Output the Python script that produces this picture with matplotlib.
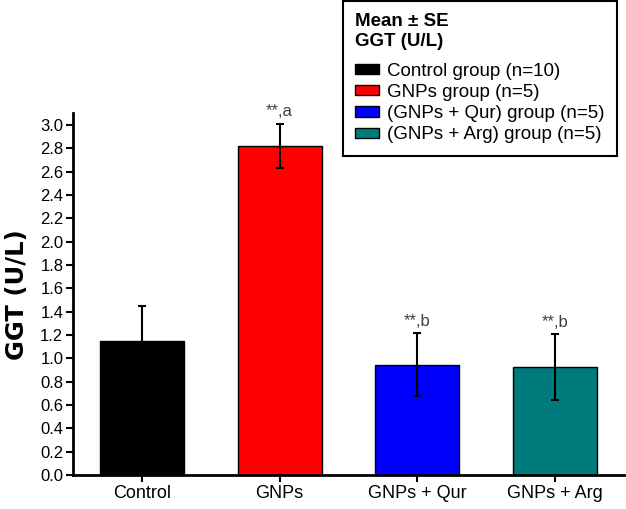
import matplotlib
matplotlib.use("Agg")
import matplotlib.pyplot as plt
from matplotlib.patches import Patch

plt.rcParams['font.family'] = ['Liberation Sans', 'DejaVu Sans']

categories = ["Control", "GNPs", "GNPs + Qur", "GNPs + Arg"]
means = [1.15, 2.82, 0.945, 0.925]
se = [0.30, 0.19, 0.27, 0.28]
colors = ["#000000", "#FF0000", "#0000FF", "#007B7B"]
legend_labels = ["Control group (n=10)", "GNPs group (n=5)",
                 "(GNPs + Qur) group (n=5)", "(GNPs + Arg) group (n=5)"]
annotations = ["", "**,a", "**,b", "**,b"]
yticks = [round(0.2 * i, 1) for i in range(16)]

fig = plt.figure(figsize=(6.26, 5.09), dpi=100)
ax = fig.add_axes([0.1166, 0.0668, 0.880, 0.7106])

x = list(range(len(categories)))
ax.bar(x, means, width=0.61, color=colors, edgecolor="black", linewidth=1.0, zorder=2)
ax.errorbar(x, means, yerr=se, fmt="none", ecolor="black", elinewidth=1.5,
            capsize=3.2, capthick=1.5, zorder=3)
for xi, m, s, a in zip(x, means, se, annotations):
    if a:
        ax.text(xi, m + s + 0.04, a, ha="center", va="bottom", fontsize=12, color="#404040")

ax.set_xlim(-0.5, 3.5)
ax.set_ylim(0, 3.1)
ax.set_yticks(yticks)
ax.set_yticklabels([f"{t:.1f}" for t in yticks], fontsize=12)
ax.set_xticks(x)
ax.set_xticklabels(categories, fontsize=13)
ax.set_ylabel("GGT (U/L)", fontsize=17.5, fontweight="bold", labelpad=8,
              family=["DejaVu Sans"])

for s in ["top", "right"]:
    ax.spines[s].set_visible(False)
for s in ["left", "bottom"]:
    ax.spines[s].set_linewidth(2)
ax.tick_params(axis="both", direction="out", length=5, width=1.5, pad=2)

handles = [Patch(facecolor=c, edgecolor="black", linewidth=1.0) for c in colors]
leg = fig.legend(handles, legend_labels, loc="upper left",
                 bbox_to_anchor=(343 / 626, 1 - 1 / 509), fontsize=13.5,
                 title="Mean ± SE\nGGT (U/L)",
                 title_fontproperties={"weight": "bold", "size": 13.5},
                 alignment="left", fancybox=False, framealpha=1, edgecolor="black",
                 handlelength=1.25, handleheight=0.45, handletextpad=0.45,
                 labelspacing=0.22, borderpad=0.65, borderaxespad=0)
leg.get_frame().set_linewidth(1.5)
leg.get_title().set_linespacing(1.25)
try:
    leg._legend_box.sep = 9
except Exception:
    pass

fig.savefig("out.png", dpi=100)
